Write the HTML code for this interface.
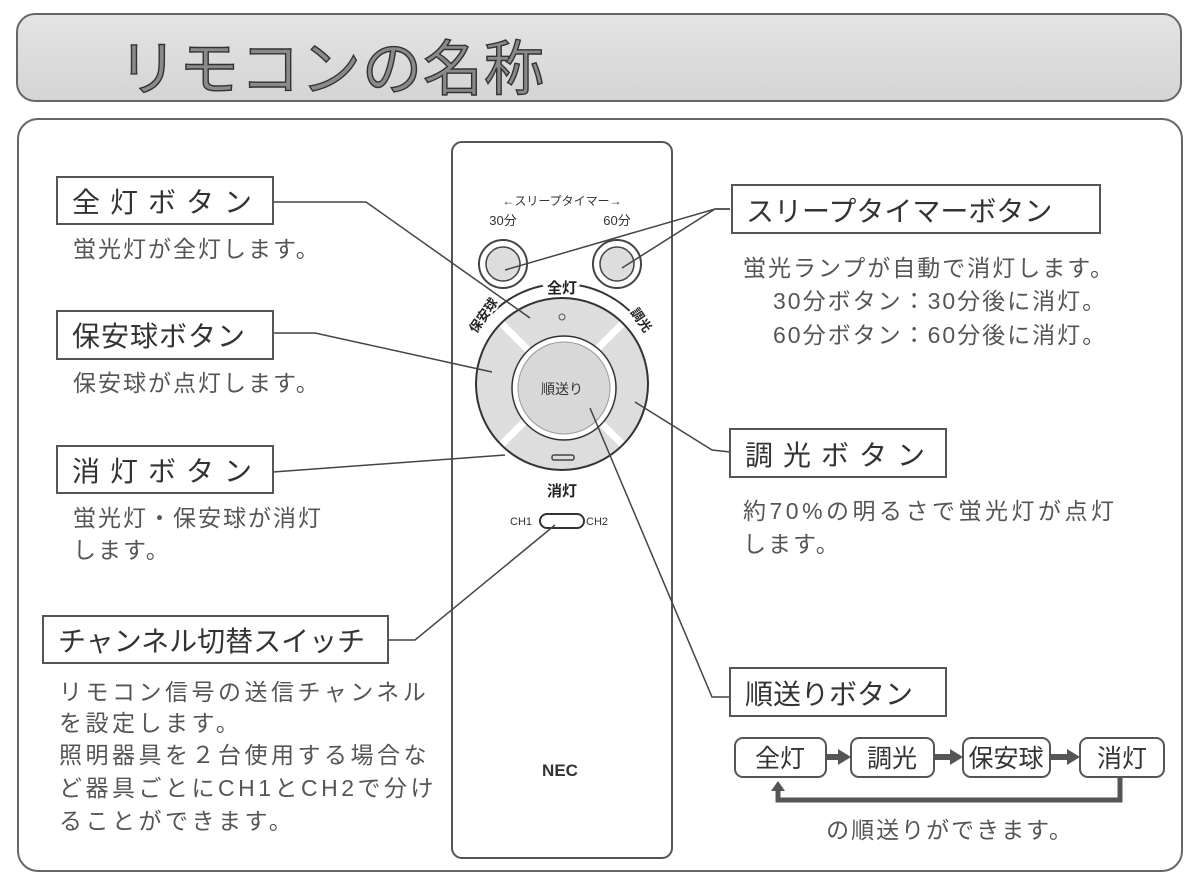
<!DOCTYPE html>
<html><head><meta charset="utf-8"><style>
html,body{margin:0;padding:0;background:#fff;}
svg{display:block;}
text{font-family:"Liberation Sans","Noto Sans CJK JP",sans-serif;}
</style></head><body>
<svg width="1200" height="888" viewBox="0 0 1200 888" xmlns="http://www.w3.org/2000/svg">
<defs>
<linearGradient id="hg" x1="0" y1="0" x2="0" y2="1">
<stop offset="0" stop-color="#e4e4e4"/><stop offset="1" stop-color="#d4d4d4"/>
</linearGradient>
</defs>
<rect x="17" y="14" width="1164" height="87" rx="18" fill="url(#hg)" stroke="#666" stroke-width="2"/>
<text x="118" y="90" font-size="60" fill="#8a8a8a" stroke="#333" stroke-width="1.4" letter-spacing="1">リモコンの名称</text>
<rect x="18" y="119" width="1164" height="752" rx="20" fill="#fff" stroke="#666" stroke-width="2"/>

<!-- remote -->
<rect x="452" y="142" width="220" height="716" rx="10" fill="#fff" stroke="#555" stroke-width="2"/>
<text x="562" y="205" font-size="12" text-anchor="middle" fill="#333">←スリープタイマー→</text>
<text x="503" y="225" font-size="13" text-anchor="middle" fill="#333">30分</text>
<text x="617" y="225" font-size="13" text-anchor="middle" fill="#333">60分</text>
<circle cx="503" cy="264" r="24" fill="#fff" stroke="#444" stroke-width="2"/>
<circle cx="503" cy="264" r="17" fill="#ddd" stroke="#444" stroke-width="1.5"/>
<circle cx="617" cy="264" r="24" fill="#fff" stroke="#444" stroke-width="2"/>
<circle cx="617" cy="264" r="17" fill="#ddd" stroke="#444" stroke-width="1.5"/>
<path d="M486,320 A98,98 0 0 1 638,320" fill="none" stroke="#333" stroke-width="2"/>
<text x="562" y="293" font-size="15" font-weight="bold" text-anchor="middle" fill="#222" stroke="#fff" stroke-width="6" paint-order="stroke">全灯</text>
<text x="476" y="334" font-size="13" font-weight="bold" fill="#222" stroke="#fff" stroke-width="4" paint-order="stroke" transform="rotate(-55 476 334)">保安球</text>
<text x="630" y="312" font-size="13" font-weight="bold" fill="#222" stroke="#fff" stroke-width="4" paint-order="stroke" transform="rotate(55 630 312)">調光</text>
<circle cx="562" cy="384" r="86" fill="#ddd" stroke="#333" stroke-width="2"/>
<g stroke="#fff" stroke-width="7">
<line x1="502" y1="324" x2="530" y2="352"/><line x1="622" y1="324" x2="594" y2="352"/>
<line x1="502" y1="444" x2="530" y2="416"/><line x1="622" y1="444" x2="594" y2="416"/>
</g>
<circle cx="564" cy="388" r="52" fill="#fff" stroke="#333" stroke-width="1.5"/>
<circle cx="564" cy="388" r="46" fill="#d8d8d8" stroke="#999" stroke-width="1"/>
<text x="562" y="394" font-size="14" text-anchor="middle" fill="#333">順送り</text>
<circle cx="562" cy="317" r="3" fill="none" stroke="#555"/>
<rect x="552" y="455" width="22" height="5" rx="2" fill="none" stroke="#444" stroke-width="1.5"/>
<text x="562" y="496" font-size="15" font-weight="bold" text-anchor="middle" fill="#222">消灯</text>
<text x="510" y="525" font-size="11" fill="#333">CH1</text>
<rect x="540" y="514" width="44" height="14" rx="7" fill="#fff" stroke="#333" stroke-width="2"/>
<text x="586" y="525" font-size="11" fill="#333">CH2</text>
<text x="560" y="776" font-size="17" font-weight="bold" text-anchor="middle" fill="#333">NEC</text>

<g fill="none" stroke="#444" stroke-width="1.5">
<polyline points="273,202 366,202 530,318"/>
<polyline points="273,333 315,333 492,372"/>
<polyline points="273,472 505,455"/>
<polyline points="388,640 415,640 555,525"/>
<polyline points="730,209 715,209 505,270"/>
<polyline points="730,209 715,209 622,268"/>
<polyline points="730,452 712,450 635,402"/>
<polyline points="730,697 712,697 590,408"/>
</g>

<g fill="#fff" stroke="#555" stroke-width="2">
<rect x="57" y="177" width="216" height="47"/>
<rect x="57" y="311" width="216" height="48"/>
<rect x="57" y="446" width="216" height="47"/>
<rect x="43" y="616" width="345" height="47"/>
<rect x="732" y="185" width="368" height="48"/>
<rect x="730" y="429" width="216" height="48"/>
<rect x="730" y="668" width="216" height="48"/>
</g>
<g font-size="28" fill="#333">
<text x="72" y="212" letter-spacing="10">全灯ボタン</text>
<text x="72" y="346" letter-spacing="1">保安球ボタン</text>
<text x="72" y="481" letter-spacing="10">消灯ボタン</text>
<text x="58" y="651">チャンネル切替スイッチ</text>
<text x="746" y="221">スリープタイマーボタン</text>
<text x="745" y="465" letter-spacing="10">調光ボタン</text>
<text x="745" y="704">順送りボタン</text>
</g>
<g font-size="23" fill="#555" letter-spacing="2">
<text x="73" y="257">蛍光灯が全灯します。</text>
<text x="73" y="391">保安球が点灯します。</text>
<text x="73" y="526">蛍光灯・保安球が消灯</text>
<text x="73" y="558">します。</text>
<g letter-spacing="3.5">
<text x="59" y="700">リモコン信号の送信チャンネル</text>
<text x="59" y="731">を設定します。</text>
<text x="59" y="763">照明器具を２台使用する場合な</text>
<text x="59" y="796">ど器具ごとにCH1とCH2で分け</text>
<text x="59" y="829">ることができます。</text>
</g>
<text x="743" y="276">蛍光ランプが自動で消灯します。</text>
<text x="773" y="309">30分ボタン：30分後に消灯。</text>
<text x="773" y="343">60分ボタン：60分後に消灯。</text>
<text x="743" y="519" letter-spacing="3.5">約70%の明るさで蛍光灯が点灯</text>
<text x="743" y="552">します。</text>
<text x="950" y="838" text-anchor="middle">の順送りができます。</text>
</g>

<g fill="#fff" stroke="#555" stroke-width="2">
<rect x="735" y="738" width="91" height="39" rx="8"/>
<rect x="851" y="738" width="83" height="39" rx="8"/>
<rect x="963" y="738" width="87" height="39" rx="8"/>
<rect x="1080" y="738" width="84" height="39" rx="8"/>
</g>
<g font-size="25" fill="#333" text-anchor="middle">
<text x="780" y="767">全灯</text>
<text x="892" y="767">調光</text>
<text x="1006" y="767">保安球</text>
<text x="1122" y="767">消灯</text>
</g>
<g fill="#555">
<rect x="826" y="754" width="14" height="6"/><polygon points="838,749 851,757 838,765"/>
<rect x="934" y="754" width="17" height="6"/><polygon points="950,749 963,757 950,765"/>
<rect x="1050" y="754" width="18" height="6"/><polygon points="1067,749 1080,757 1067,765"/>
</g>
<polyline points="1120,777 1120,800 778,800 778,788" fill="none" stroke="#555" stroke-width="5"/>
<polygon points="771,791 778,781 785,791" fill="#555"/>
</svg>
</body></html>
